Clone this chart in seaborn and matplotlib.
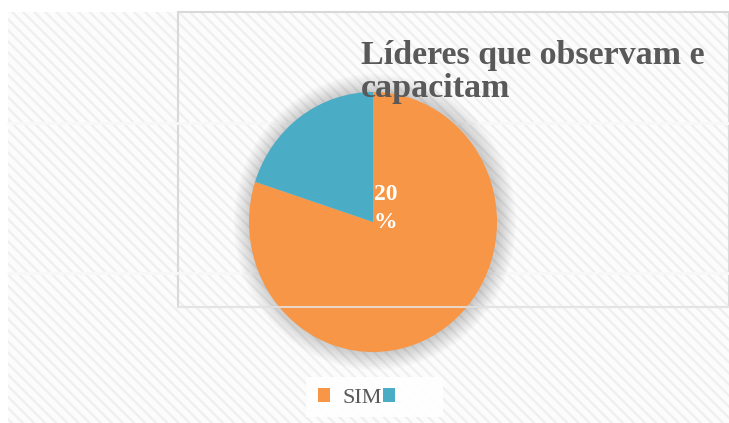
import matplotlib
matplotlib.use("Agg")
import matplotlib.pyplot as plt
import seaborn as sns
from matplotlib.patches import Rectangle, Ellipse, Patch

# ---- data ----
categories = ["SIM", ""]
values = [80, 20]
label_text = "20\n%"
title_text = "Líderes que observam e\ncapacitam"

sns.set_theme(style="white")
plt.rcParams["font.family"] = ["Liberation Serif", "DejaVu Serif"]
plt.rcParams["hatch.color"] = "#efefef"
plt.rcParams["hatch.linewidth"] = 1.6

colors = ["#F79646", "#4BACC6"]
W, H = 729, 423
fig = plt.figure(figsize=(W / 100, H / 100), dpi=100)
fig.patch.set_facecolor("white")

# background (chart area) with diagonal hatch
bg = fig.add_axes([0, 0, 1, 1])
bg.set_xlim(0, W)
bg.set_ylim(H, 0)
bg.axis("off")
bg.add_patch(Rectangle((8, 12), W - 8, H - 12, facecolor="#fcfcfc",
                       edgecolor="#efefef", hatch="\\\\\\", linewidth=0))
for yy in (123, 273):
    bg.plot([8, W], [yy, yy], color="#f8f8f8", lw=2)
# plot area box
bg.add_patch(Rectangle((178, 12), W - 178, 295, facecolor="none",
                       edgecolor="#d9d9d9", linewidth=1.5))
# legend backdrop
bg.add_patch(Rectangle((306, 377), 137, 40, facecolor="white",
                       edgecolor="none", alpha=0.9))

# pie axes
cx, cy, rx, ry = 373, 222, 124, 130
ax = fig.add_axes([(cx - rx) / W, (H - cy - ry) / H, 2 * rx / W, 2 * ry / H])
ax.patch.set_alpha(0)
# soft shadow
for i in range(12):
    r = 1.14 - i * 0.012
    ax.add_patch(Ellipse((0.015, 0.0), 2 * r, 2 * r, facecolor="#000000",
                         alpha=0.016, edgecolor="none", zorder=0, clip_on=False))
wedges, _ = ax.pie(values, colors=colors, startangle=90, counterclock=False,
                   wedgeprops=dict(linewidth=0))
for w in wedges:
    w.set_zorder(2)
ax.set_aspect("auto")
ax.set_xlim(-1, 1)
ax.set_ylim(-1, 1)
ax.text(0.1, 0.105, label_text, color="white", fontsize=17, fontweight="bold",
        ha="center", va="center", linespacing=1.4, zorder=3)

# plot-area bottom border drawn over the pie (as in the reference)
ov = fig.add_axes([0, 0, 1, 1])
ov.set_xlim(0, W)
ov.set_ylim(H, 0)
ov.axis("off")
ov.patch.set_alpha(0)
ov.plot([178, W], [307, 307], color="#e8e8e8", lw=1.5, alpha=0.8)

# legend
handles = [Patch(facecolor=c, edgecolor="none") for c in colors]
leg = fig.legend(handles, categories, loc="center left",
                 bbox_to_anchor=(318 / W, 1 - 398 / H),
                 ncol=2, frameon=False, fontsize=16, handlelength=0.55, handleheight=0.55,
                 handletextpad=0.55, columnspacing=0.05, borderpad=0.0, borderaxespad=0,
                 labelcolor="#595959")

fig.text(361 / W, 1 - 40 / H, title_text, fontsize=24.5, fontweight="bold",
         color="#595959", ha="left", va="top", linespacing=1.1)

fig.savefig("out.png", dpi=100)
